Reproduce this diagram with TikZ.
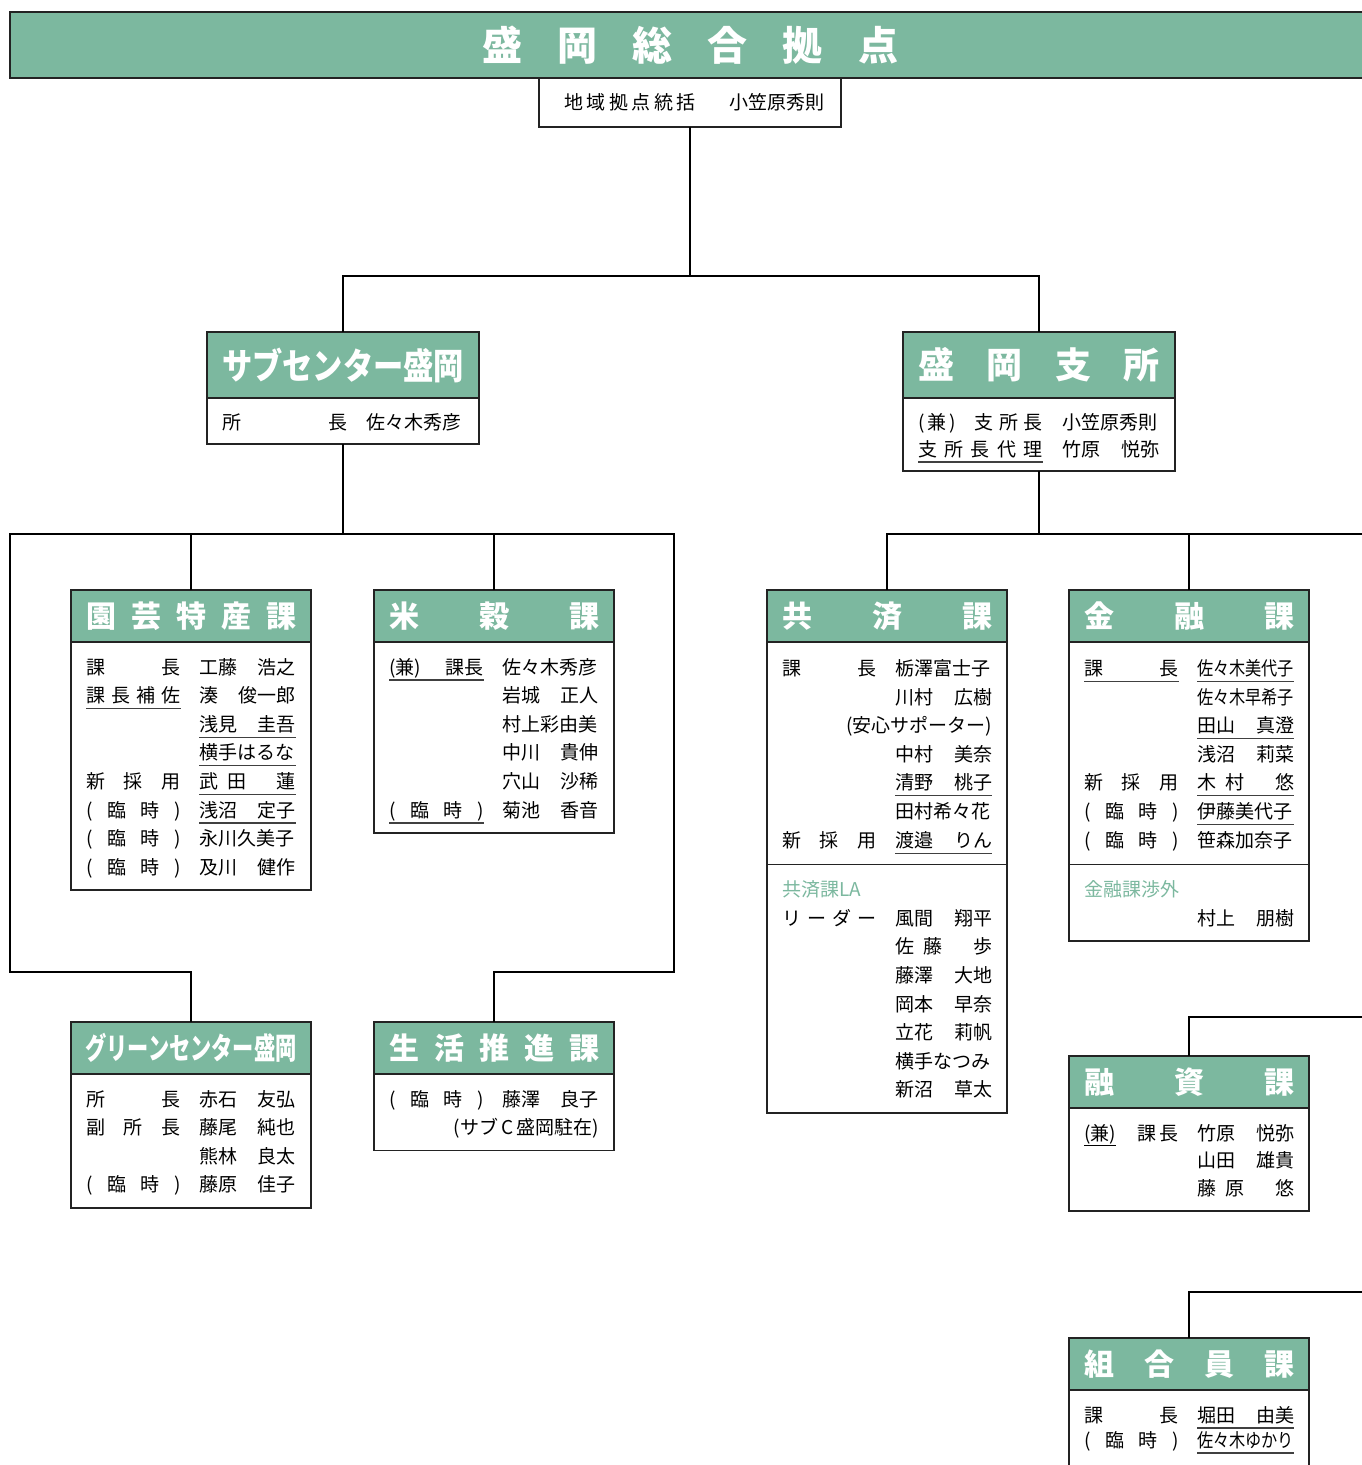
\documentclass[tikz,border=0pt]{standalone}
\usepackage{fontspec}
\setmainfont{Noto Sans CJK JP}
\usepackage{graphicx}
\usetikzlibrary{positioning,matrix}

\definecolor{hdgreen}{RGB}{124,184,159}
\definecolor{boxline}{RGB}{35,35,35}

\newcommand\bodyfont{\fontsize{19}{22}\selectfont}
\newcommand\ttl[1]{\makebox[210pt][s]{#1}}
\newcommand\nrw[1]{\resizebox{97pt}{\height}{#1}}

\tikzset{
  conn/.style={line width=1.6pt, black},
  hd/.style={draw=boxline, fill=hdgreen, line width=1.5pt, anchor=north west,
    minimum width=240pt, minimum height=52pt, inner sep=0pt, outer sep=0pt,
    text=white, font=\bfseries\fontsize{30}{30}\selectfont},
  widehd/.style={hd, minimum width=272pt, minimum height=66pt,
    font=\bfseries\fontsize{36}{36}\selectfont},
  ulline/.style={line width=1.1pt, draw=black!75},
  bd/.style={matrix of nodes, draw=boxline, line width=1.5pt, outer sep=0pt,
    inner xsep=15pt, inner ysep=15pt, column sep=18pt, row sep=10.6pt,
    nodes={inner sep=0pt, outer sep=0pt, text height=17pt, text depth=1pt, font=\bodyfont},
    column 1/.style={nodes={text width=95pt}},
    column 2/.style={nodes={text width=97pt}}},
  widebd/.style={bd, column sep=19pt,
    column 1/.style={nodes={text width=125pt}},
    column 2/.style={nodes={text width=98pt}}}
}

\begin{document}
\begin{tikzpicture}[x=1pt, y=-1pt]
\useasboundingbox (0,0) rectangle (1362,1465);

% head office
\node (hqH) [hd, minimum width=1360pt, minimum height=66pt,
  font=\bfseries\fontsize{40}{40}\selectfont] at (10,12)
  {\makebox[416pt][s]{盛\hfill 岡\hfill 総\hfill 合\hfill 拠\hfill 点}};
\node (hqsub) [draw=boxline, line width=1.5pt, outer sep=0pt, minimum width=302pt,
  minimum height=49pt, font=\bodyfont, below=0pt of hqH]
  {\hspace{8pt}\makebox[132pt][s]{地\hfill 域\hfill 拠\hfill 点\hfill 統\hfill 括}\hspace{33pt}小笠原秀則};

% second level
\node (subH) [widehd] at (207,332) {\resizebox{242pt}{\height}{サブセンター盛岡}};
\matrix (subB) [widebd, inner ysep=14pt, below=0pt of subH] {
  所\hfill 長 & 佐々木秀彦 \\
};

\node (shishoH) [widehd] at (903,332) {\makebox[241pt][s]{盛\hfill 岡\hfill 支\hfill 所}};
\matrix (shishoB) [widebd, inner ysep=14pt, row sep=9pt, below=0pt of shishoH] {
  (\,兼\,)\hfill 支\hspace{.3em}所\hspace{.3em}長 & 小笠原秀則 \\
  支\hfill 所\hfill 長\hfill 代\hfill 理 & 竹原\hfill 悦弥 \\
};

% sub center sections
\node (engeiH) [hd] at (71,590) {\ttl{園\hfill 芸\hfill 特\hfill 産\hfill 課}};
\matrix (engeiB) [bd, below=0pt of engeiH] {
  課\hfill 長 & 工藤\hfill 浩之 \\
  課\hfill 長\hfill 補\hfill 佐 & 湊\hfill 俊一郎 \\
  & 浅見\hfill 圭吾 \\
  & 横手はるな \\
  新\hfill 採\hfill 用 & 武\hspace{.5em}田\hfill 蓮 \\
  (\hfill 臨\hfill 時\hfill ) & 浅沼\hfill 定子 \\
  (\hfill 臨\hfill 時\hfill ) & 永川久美子 \\
  (\hfill 臨\hfill 時\hfill ) & 及川\hfill 健作 \\
};

\node (beikokuH) [hd] at (374,590) {\ttl{米\hfill 穀\hfill 課}};
\matrix (beikokuB) [bd, below=0pt of beikokuH] {
  (兼)\hfill 課長 & 佐々木秀彦 \\
  & 岩城\hfill 正人 \\
  & 村上彩由美 \\
  & 中川\hfill 貴伸 \\
  & 穴山\hfill 沙稀 \\
  (\hfill 臨\hfill 時\hfill ) & 菊池\hfill 香音 \\
};

\node (greenH) [hd] at (71,1022) {\resizebox{211pt}{\height}{グリーンセンター盛岡}};
\matrix (greenB) [bd, below=0pt of greenH] {
  所\hfill 長 & 赤石\hfill 友弘 \\
  副\hfill 所\hfill 長 & 藤尾\hfill 純也 \\
  & 熊林\hfill 良太 \\
  (\hfill 臨\hfill 時\hfill ) & 藤原\hfill 佳子 \\
};

\node (seikatsuH) [hd] at (374,1022) {\ttl{生\hfill 活\hfill 推\hfill 進\hfill 課}};
\matrix (seikatsuB) [bd, below=0pt of seikatsuH] {
  (\hfill 臨\hfill 時\hfill ) & 藤澤\hfill 良子 \\
  & \hfill\llap{(サブ\,C\,盛岡駐在)} \\
};

% branch sections
\node (kyosaiH) [hd] at (767,590) {\ttl{共\hfill 済\hfill 課}};
\matrix (kyosaiB) [bd, inner ysep=16.5pt, below=0pt of kyosaiH] {
  課\hfill 長 & 栃澤富士子 \\
  & 川村\hfill 広樹 \\
  & \hfill\llap{(安心サポーター)} \\
  & 中村\hfill 美奈 \\
  & 清野\hfill 桃子 \\
  & 田村希々花 \\
  新\hfill 採\hfill 用 & 渡邉\hfill りん \\
};
\matrix (kyosaiLA) [bd, below=0pt of kyosaiB] {
  |[text=hdgreen]|共済課LA \\
  リ\hfill ー\hfill ダ\hfill ー & 風間\hfill 翔平 \\
  & 佐\hspace{.5em}藤\hfill 歩 \\
  & 藤澤\hfill 大地 \\
  & 岡本\hfill 早奈 \\
  & 立花\hfill 莉帆 \\
  & 横手なつみ \\
  & 新沼\hfill 草太 \\
};

\node (kinyuH) [hd] at (1069,590) {\ttl{金\hfill 融\hfill 課}};
\matrix (kinyuB) [bd, inner ysep=16.5pt, below=0pt of kinyuH] {
  課\hfill 長 & \nrw{佐々木美代子} \\
  & \nrw{佐々木早希子} \\
  & 田山\hfill 真澄 \\
  & 浅沼\hfill 莉菜 \\
  新\hfill 採\hfill 用 & 木\hspace{.5em}村\hfill 悠 \\
  (\hfill 臨\hfill 時\hfill ) & 伊藤美代子 \\
  (\hfill 臨\hfill 時\hfill ) & 笹森加奈子 \\
};
\matrix (kinyuLA) [bd, below=0pt of kinyuB] {
  |[text=hdgreen]|金融課渉外 \\
  & 村上\hfill 朋樹 \\
};

\node (yushiH) [hd] at (1069,1056) {\ttl{融\hfill 資\hfill 課}};
\matrix (yushiB) [bd, row sep=9.5pt, below=0pt of yushiH] {
  \underline{(兼)}\hfill 課\hspace{.2em}長 & 竹原\hfill 悦弥 \\
  & 山田\hfill 雄貴 \\
  & 藤\hspace{.5em}原\hfill 悠 \\
};

\node (kumiaiH) [hd] at (1069,1338) {\ttl{組\hfill 合\hfill 員\hfill 課}};
\matrix (kumiaiB) [bd, draw=none, row sep=7pt, below=0pt of kumiaiH] {
  課\hfill 長 & 堀田\hfill 由美 \\
  (\hfill 臨\hfill 時\hfill ) & \nrw{佐々木ゆかり} \\
};
\draw [line width=1.5pt, boxline] (kumiaiH.south west) -- ++(0,120);
\draw [line width=1.5pt, boxline] (kumiaiH.south east) -- ++(0,120);

% underlines
\foreach \c in {shishoB-2-1, engeiB-2-1, engeiB-3-2, engeiB-4-2, engeiB-5-2,
    engeiB-6-2, beikokuB-1-1, beikokuB-6-1, kyosaiB-5-2, kyosaiB-7-2,
    kinyuB-1-1, kinyuB-1-2, kinyuB-3-2, kinyuB-5-2, kinyuB-6-2,
    kumiaiB-1-2, kumiaiB-2-2}
  \draw [ulline] ([yshift=-5pt]\c.south west) -- ([yshift=-5pt]\c.south east);

% connectors
\coordinate (westBus) at (10,534);
\coordinate (eastBus) at (674,534);
\coordinate (loopY) at (0,972);
\coordinate (rBus) at (1362,534);
\coordinate (yushiIn) at (1362,1017);
\coordinate (kumiaiIn) at (1362,1292);

\draw [conn] (hqsub.south) -- ++(0,149) coordinate (hqJ);
\draw [conn] (subH.north) |- (hqJ) -| (shishoH.north);

\draw [conn] (subB.south) -- (subB.south |- westBus);
\draw [conn] (engeiH.north) -- (engeiH.north |- westBus);
\draw [conn] (beikokuH.north) -- (beikokuH.north |- westBus);
\draw [conn] (greenH.north) |- (westBus |- loopY) -- (westBus) -- (eastBus)
  -- (eastBus |- loopY) -| (seikatsuH.north);

\draw [conn] (shishoB.south) -- (shishoB.south |- rBus);
\draw [conn] (kyosaiH.north) |- (rBus);
\draw [conn] (kinyuH.north) -- (kinyuH.north |- rBus);
\draw [conn] (yushiIn) -| (yushiH.north);
\draw [conn] (kumiaiIn) -| (kumiaiH.north);
\end{tikzpicture}
\end{document}
